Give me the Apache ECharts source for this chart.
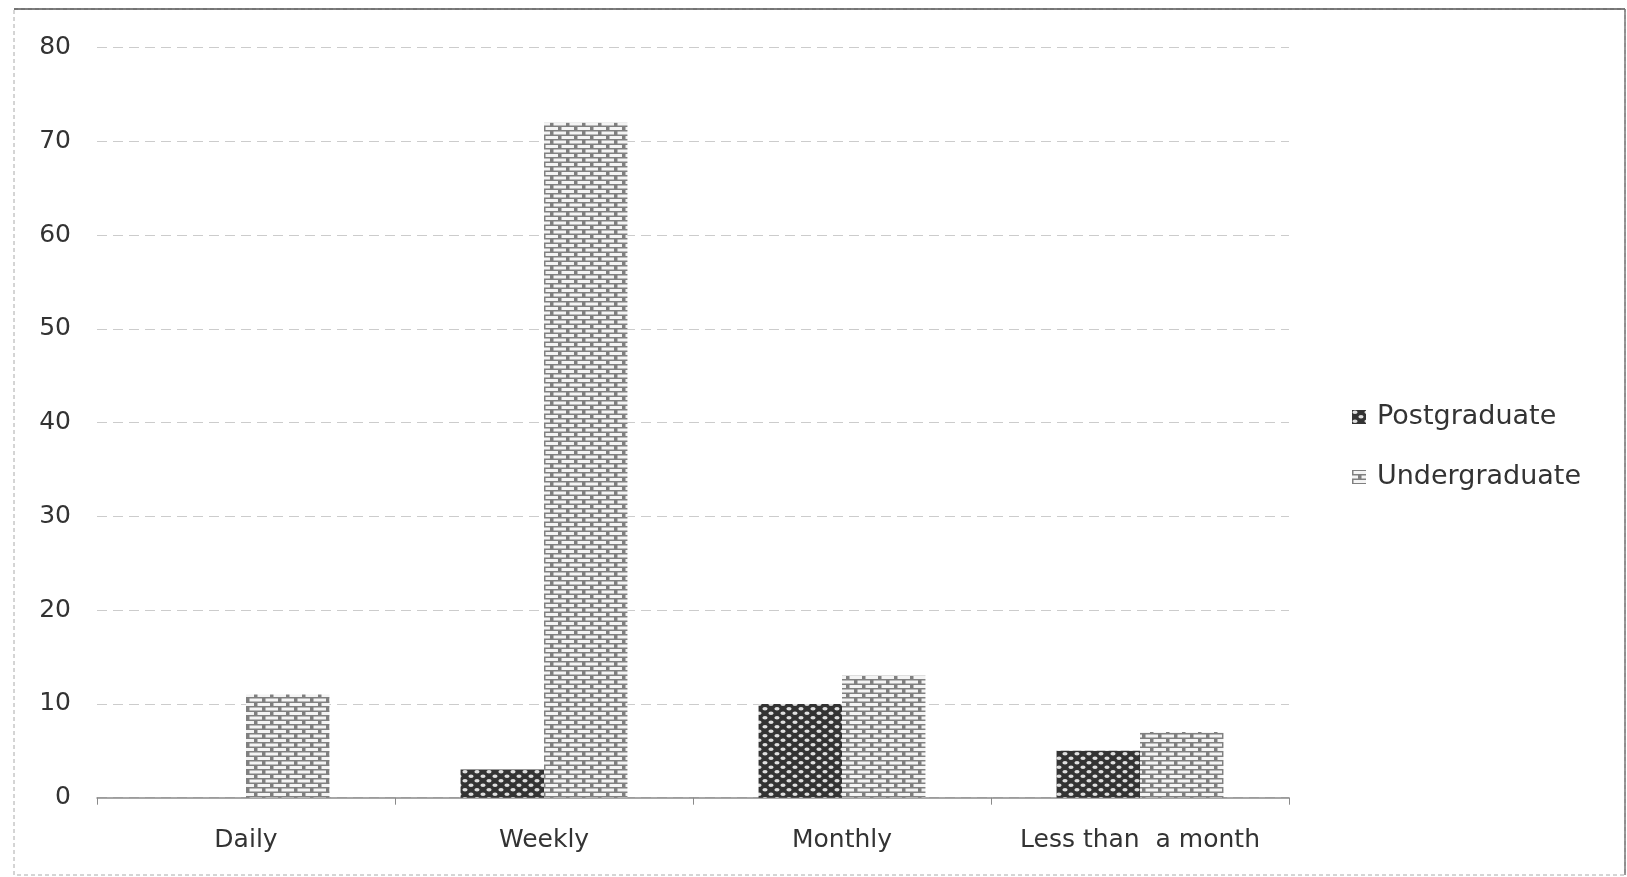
<!DOCTYPE html>
<html>
<head>
<meta charset="utf-8">
<script src="https://cdn.jsdelivr.net/npm/echarts@6/dist/echarts.min.js"></script>
<style>
html,body{margin:0;padding:0;background:#fff;}
#c{width:1627px;height:877px;}
</style>
</head>
<body>
<div id="c"></div>
<script>
const categories = ['Daily', 'Weekly', 'Monthly', 'Less than  a month'];
const postgraduate = [0, 3, 10, 5];
const undergraduate = [11, 72, 13, 7];
const yTicks = { min: 0, max: 80, interval: 10 };

function makePost() {
  const c = document.createElement('canvas');
  c.width = 12; c.height = 9;
  const g = c.getContext('2d');
  g.fillStyle = '#333';
  g.fillRect(0, 0, 12, 9);
  g.fillStyle = '#e0e0e0';
  const dots = [[3, 2.25], [9, 6.75], [-3, 6.75], [15, 2.25]];
  dots.forEach(d => { g.beginPath(); g.ellipse(d[0], d[1], 2.6, 1.7, 0, 0, Math.PI * 2); g.fill(); });
  return c;
}
function makeUnder() {
  const c = document.createElement('canvas');
  c.width = 16; c.height = 9;
  const g = c.getContext('2d');
  g.fillStyle = '#808080';
  g.fillRect(0, 0, 16, 9);
  g.fillStyle = '#f4f4f4';
  g.fillRect(1.5, 1, 12.5, 3);
  g.fillRect(9.5, 5.5, 12.5, 3);
  g.fillRect(-6.5, 5.5, 12.5, 3);
  return c;
}

const chart = echarts.init(document.getElementById('c'), null, { renderer: 'canvas' });
const font = 'DejaVu Sans';
chart.setOption({
  animation: false,
  backgroundColor: '#fff',
  graphic: [
    { type: 'rect', shape: { x: 14, y: 9, width: 1611, height: 866 }, style: { fill: 'none', stroke: '#aaa', lineWidth: 1, lineDash: [4, 3] }, silent: true },
    { type: 'line', shape: { x1: 14, y1: 9, x2: 1625, y2: 9 }, style: { stroke: '#555', lineWidth: 1.5 }, silent: true },
    { type: 'line', shape: { x1: 1625, y1: 9, x2: 1625, y2: 875 }, style: { stroke: '#777', lineWidth: 1.5 }, silent: true }
  ],
  grid: { left: 97, right: 338, top: 47.7, bottom: 79.3, containLabel: false },
  legend: {
    orient: 'vertical',
    left: 1347,
    top: 397,
    itemWidth: 14,
    itemHeight: 14,
    itemGap: 30,
    icon: 'rect',
    textStyle: { fontFamily: font, fontSize: 27, color: '#333', lineHeight: 30, padding: [0, 0, 0, 6] },
    data: ['Postgraduate', 'Undergraduate']
  },
  xAxis: {
    type: 'category',
    data: categories,
    axisLine: { lineStyle: { color: '#8a8a8a', width: 1.5 } },
    axisTick: { show: true, length: 7, lineStyle: { color: '#8a8a8a' } },
    axisLabel: { fontFamily: font, fontSize: 25, color: '#333', margin: 30, interval: 0 }
  },
  yAxis: {
    type: 'value',
    min: yTicks.min, max: yTicks.max, interval: yTicks.interval,
    axisLine: { show: false },
    axisTick: { show: false },
    axisLabel: { fontFamily: font, fontSize: 25, color: '#333', margin: 26 },
    splitLine: { lineStyle: { color: '#cccccc', type: [10, 6], width: 1 } }
  },
  series: [
    { name: 'Postgraduate', type: 'bar', data: postgraduate, barGap: '0%', barCategoryGap: '44%',
      itemStyle: { color: { image: makePost(), repeat: 'repeat' } } },
    { name: 'Undergraduate', type: 'bar', data: undergraduate, barGap: '0%', barCategoryGap: '44%',
      itemStyle: { color: { image: makeUnder(), repeat: 'repeat' } } }
  ]
});
</script>
</body>
</html>
